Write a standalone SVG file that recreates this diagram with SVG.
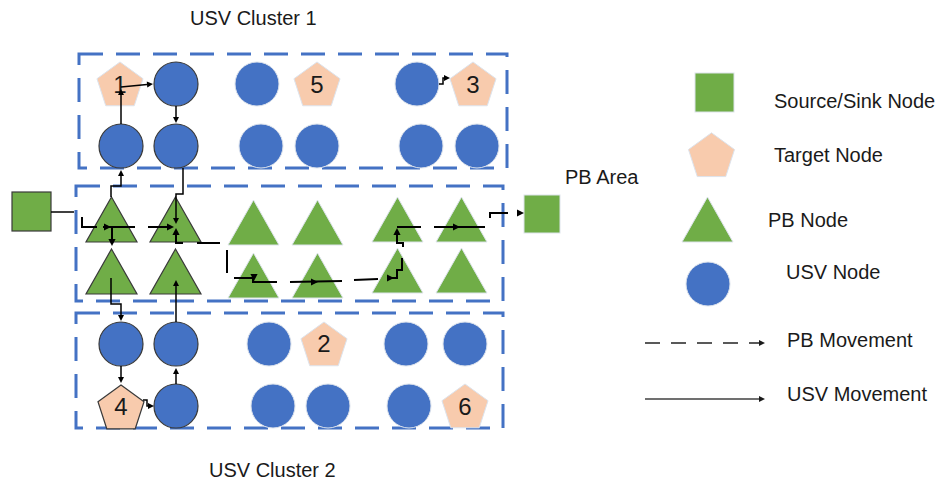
<svg xmlns="http://www.w3.org/2000/svg" xmlns:xlink="http://www.w3.org/1999/xlink" width="940" height="486" viewBox="0 0 940 486">
  <style>
    .box { fill: none; stroke: #4472C4; stroke-width: 3; stroke-dasharray: 24 13; }
    .usv { fill: #4472C4; }
    .pbn { fill: #70AD47; }
    .tgt { fill: #F8CBAD; }
    .edge { stroke: #3a3a3a; stroke-width: 1.2; }
    .soft { stroke: #dde3ec; stroke-width: 1; }
    text { font-family: "Liberation Sans", Arial, sans-serif; font-size: 20px; fill: #1a1a1a; }
    .num { font-size: 24px; text-anchor: middle; }
    .mv-usv { fill: none; stroke: #000; stroke-width: 1.5; }
    .mv-pb { fill: none; stroke: #000; stroke-width: 2; }
    .tip { fill: #000; }
  </style>
  <defs>
    <polygon id="pent" points="0,-24.2 23.02,-7.48 14.22,19.58 -14.22,19.58 -23.02,-7.48"/>
    <polygon id="tri" points="0,0 25.5,45 -25.5,45"/>
    <path id="ah" d="M0,0 L-7,-3.6 L-7,3.6 Z"/>
    <path id="ahs" d="M0,0 L-6,-3 L-6,3 Z"/>
  </defs>

  <rect width="940" height="486" fill="#fff"/>

  <!-- area outlines -->
  <rect class="box" x="79" y="54" width="428" height="114"/>
  <rect class="box" x="76" y="186" width="427" height="115"/>
  <rect class="box" x="76" y="313" width="427" height="115"/>

  <text x="190" y="25">USV Cluster 1</text>
  <text x="565" y="184">PB Area</text>
  <text x="209" y="477">USV Cluster 2</text>

  <!-- cluster 1 -->
  <g id="t1"><use href="#pent" class="tgt soft" transform="translate(120,86.2)"/><text class="num" x="120" y="93">1</text></g>
  <g id="c1a"><circle class="usv edge" cx="176" cy="84" r="22"/></g>
  <g id="c1b"><circle class="usv soft" cx="257" cy="84" r="22"/></g>
  <g id="t5"><use href="#pent" class="tgt soft" transform="translate(317,86.2)"/><text class="num" x="317" y="93">5</text></g>
  <g id="c1c"><circle class="usv soft" cx="417" cy="84" r="22"/></g>
  <g id="t3"><use href="#pent" class="tgt soft" transform="translate(473,86.2)"/><text class="num" x="473" y="93">3</text></g>
  <g id="c1d"><circle class="usv edge" cx="121" cy="146" r="22"/></g>
  <g id="c1e"><circle class="usv edge" cx="176" cy="146" r="22"/></g>
  <g id="c1f"><circle class="usv soft" cx="261" cy="146" r="22"/></g>
  <g id="c1g"><circle class="usv soft" cx="317" cy="146" r="22"/></g>
  <g id="c1h"><circle class="usv soft" cx="421" cy="146" r="22"/></g>
  <g id="c1i"><circle class="usv soft" cx="477" cy="146" r="22"/></g>

  <!-- source and sink -->
  <g id="source"><rect class="pbn edge" x="12" y="192" width="39" height="39"/></g>
  <g id="sink"><rect class="pbn soft" x="524" y="195" width="36" height="38"/></g>

  <!-- PB area -->
  <g id="p1"><use href="#tri" class="pbn edge" transform="translate(111.5,197)"/></g>
  <g id="p2"><use href="#tri" class="pbn edge" transform="translate(175.5,197)"/></g>
  <g id="p3"><use href="#tri" class="pbn soft" transform="translate(253.5,200)"/></g>
  <g id="p4"><use href="#tri" class="pbn soft" transform="translate(317.5,200)"/></g>
  <g id="p5"><use href="#tri" class="pbn soft" transform="translate(397.5,197)"/></g>
  <g id="p6"><use href="#tri" class="pbn soft" transform="translate(461.5,197)"/></g>
  <g id="p7"><use href="#tri" class="pbn edge" transform="translate(111.5,249)"/></g>
  <g id="p8"><use href="#tri" class="pbn edge" transform="translate(175.5,249)"/></g>
  <g id="p9"><use href="#tri" class="pbn soft" transform="translate(253.5,253)"/></g>
  <g id="p10"><use href="#tri" class="pbn soft" transform="translate(317.5,253)"/></g>
  <g id="p11"><use href="#tri" class="pbn soft" transform="translate(397.5,248)"/></g>
  <g id="p12"><use href="#tri" class="pbn soft" transform="translate(461.5,248)"/></g>

  <!-- cluster 2 -->
  <g id="c2a"><circle class="usv edge" cx="121" cy="344" r="22"/></g>
  <g id="c2b"><circle class="usv edge" cx="176" cy="344" r="22"/></g>
  <g id="c2c"><circle class="usv soft" cx="269" cy="344" r="22"/></g>
  <g id="t2"><use href="#pent" class="tgt soft" transform="translate(324,346.2)"/><text class="num" x="324" y="352">2</text></g>
  <g id="c2d"><circle class="usv soft" cx="406" cy="344" r="22"/></g>
  <g id="c2e"><circle class="usv soft" cx="465" cy="344" r="22"/></g>
  <g id="t4"><use href="#pent" class="tgt edge" transform="translate(121,409.2)"/><text class="num" x="121" y="415">4</text></g>
  <g id="c2f"><circle class="usv edge" cx="176" cy="406" r="22"/></g>
  <g id="c2g"><circle class="usv soft" cx="273" cy="406" r="22"/></g>
  <g id="c2h"><circle class="usv soft" cx="328" cy="406" r="22"/></g>
  <g id="c2i"><circle class="usv soft" cx="409" cy="406" r="22"/></g>
  <g id="t6"><use href="#pent" class="tgt soft" transform="translate(465,408.2)"/><text class="num" x="465" y="415">6</text></g>

  <!-- movements -->
  <g id="connectors">
    <path class="mv-usv" d="M51,212 H74"/>
    <path class="mv-usv" d="M121,124 V91"/>
    <use href="#ahs" class="tip" transform="translate(121,89) rotate(-90)"/>
    <path class="mv-usv" d="M121,87 L147,84.5"/>
    <use href="#ahs" class="tip" transform="translate(153,84) rotate(-5)"/>
    <path class="mv-usv" d="M176,106 V118"/>
    <use href="#ahs" class="tip" transform="translate(176,123) rotate(90)"/>
    <path class="mv-usv" d="M183,168 V194 H176 V218"/>
    <use href="#ahs" class="tip" transform="translate(176,224) rotate(90)"/>
    <path class="mv-usv" d="M111,197 V186 H121 V176"/>
    <use href="#ahs" class="tip" transform="translate(121,170) rotate(-90)"/>
    <path class="mv-usv" d="M439,84 H443 V78 H445"/>
    <use href="#ahs" class="tip" transform="translate(450,78)"/>

    <path class="mv-usv" d="M111,278 V304 H121 V315"/>
    <use href="#ahs" class="tip" transform="translate(121,321) rotate(90)"/>
    <path class="mv-usv" d="M121,366 V377"/>
    <use href="#ahs" class="tip" transform="translate(121,383) rotate(90)"/>
    <path class="mv-usv" d="M143,400 H147 V406 H148"/>
    <use href="#ahs" class="tip" transform="translate(154,406)"/>
    <path class="mv-usv" d="M176,384 V374"/>
    <use href="#ahs" class="tip" transform="translate(176,368) rotate(-90)"/>
    <path class="mv-usv" d="M176,322 V286"/>
    <use href="#ahs" class="tip" transform="translate(176,280) rotate(-90)"/>

    <path class="mv-pb" d="M82,217 V227 H97 M103,227 H135 M148,227 H168"/>
    <use href="#ah" class="tip" transform="translate(111,227)"/>
    <use href="#ah" class="tip" transform="translate(174,227)"/>
    <path class="mv-pb" d="M112,227 V240"/>
    <use href="#ah" class="tip" transform="translate(112,246) rotate(90)"/>
    <path class="mv-pb" d="M176,234 V243 H183 M197,243 H220 M227,250 V273 M234,278 H253 V282 H277 M290,282 L342,281 M354,280 L378,279 M390,278 H397 V270 H402 V258 M403,247 V243 H397 V233 M397,227 H421 M434,227 H485 M490,218 V213 H508"/>
    <use href="#ah" class="tip" transform="translate(176,228) rotate(-90)"/>
    <use href="#ah" class="tip" transform="translate(254,281) rotate(90)"/>
    <use href="#ah" class="tip" transform="translate(318,282)"/>
    <use href="#ah" class="tip" transform="translate(394,278)"/>
    <use href="#ah" class="tip" transform="translate(397,228) rotate(-90)"/>
    <use href="#ah" class="tip" transform="translate(460,227)"/>
    <use href="#ah" class="tip" transform="translate(524,213)"/>
  </g>

  <!-- legend -->
  <g id="legend">
    <rect class="pbn soft" x="695" y="73" width="39" height="39"/>
    <text x="774" y="108">Source/Sink Node</text>
    <use href="#pent" class="tgt soft" transform="translate(711.5,157)"/>
    <text x="774" y="162">Target Node</text>
    <use href="#tri" class="pbn soft" transform="translate(707.5,197)"/>
    <text x="768" y="227">PB Node</text>
    <circle class="usv soft" cx="708" cy="284" r="22"/>
    <text x="786" y="279">USV Node</text>
    <path d="M645,343 H759" fill="none" stroke="#595959" stroke-width="2" stroke-dasharray="15 11"/>
    <use href="#ahs" fill="#1a1a1a" transform="translate(765,343)"/>
    <text x="787" y="347">PB Movement</text>
    <path d="M645,399 H759" fill="none" stroke="#404040" stroke-width="1.5"/>
    <use href="#ahs" fill="#1a1a1a" transform="translate(765,399)"/>
    <text x="787" y="401">USV Movement</text>
  </g>
</svg>
